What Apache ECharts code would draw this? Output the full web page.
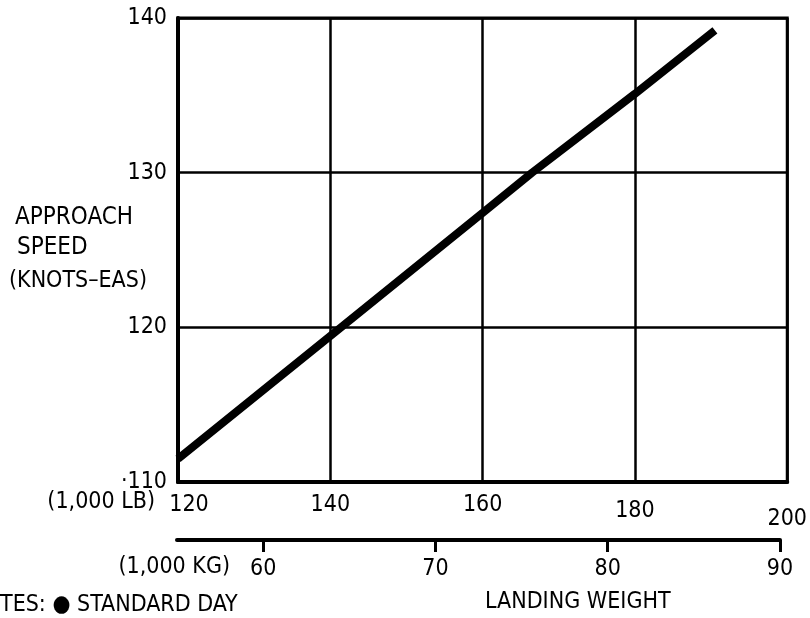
<!DOCTYPE html>
<html>
<head>
<meta charset="utf-8">
<script src="https://cdn.jsdelivr.net/npm/echarts@6/dist/echarts.min.js"></script>
<style>
html,body{margin:0;padding:0;background:#fff;}
#chart{width:810px;height:618px;}
</style>
</head>
<body>
<div id="chart"></div>
<script>
// Landing weight (1,000 LB) and approach speed (knots EAS)
const weightLb = [120, 141.4, 160, 166.5, 180, 190.5];
const approachSpeed = [111.5, 120, 127.4, 130, 135.1, 139.2];
// Tick labels
const lbTicks = [120, 140, 160, 180, 200];
const speedTicks = [110, 120, 130, 140];
const kgTicks = [60, 70, 80, 90];
const kgRange = [55, 90];
const yTitle = ['APPROACH', 'SPEED', '(KNOTS–EAS)'];

const FONT = '"Liberation Sans Narrow", "DejaVu Sans Condensed", sans-serif';
const chart = echarts.init(document.getElementById('chart'), null, {renderer: 'canvas'});

const lineData = weightLb.map((w, i) => [w, approachSpeed[i]]);

const option = {
  backgroundColor: '#fff',
  animation: false,
  grid: [
    {left: 178, top: 18, width: 615, height: 464, show: true, borderColor: '#000', borderWidth: 3, backgroundColor: 'transparent'},
    {left: 177, top: 539, width: 603, height: 1, show: false}
  ],
  xAxis: [
    {
      gridIndex: 0, type: 'value', min: lbTicks[0], max: lbTicks[lbTicks.length - 1], interval: 20,
      axisLine: {show: true, lineStyle: {color: '#000', width: 4}},
      axisTick: {show: false},
      splitLine: {show: true, lineStyle: {color: '#000', width: 2.5}},
      axisLabel: {
        color: '#000', fontFamily: FONT, fontSize: 23, margin: 12,
        formatter: function (v) {
          if (v === 120) return '{a|' + v + '}';
          if (v === 200) return '{c|' + v + '}';
          if (v === 180) return '{b|' + v + '}';
          return String(v);
        },
        rich: {
          a: {fontFamily: FONT, fontSize: 23, color: '#000', padding: [0, 0, 0, 22]},
          b: {fontFamily: FONT, fontSize: 23, color: '#000', padding: [6, 0, 0, 0]},
          c: {fontFamily: FONT, fontSize: 23, color: '#000', padding: [14, 0, 0, 0]}
        }
      }
    },
    {
      gridIndex: 1, type: 'value', min: kgRange[0], max: kgRange[1], position: 'bottom',
      axisLine: {show: true, lineStyle: {color: '#000', width: 4}},
      axisTick: {show: true, inside: false, length: 12, lineStyle: {color: '#000', width: 3}, customValues: kgTicks},
      splitLine: {show: false},
      axisLabel: {color: '#000', fontFamily: FONT, fontSize: 23, margin: 18, customValues: kgTicks}
    }
  ],
  yAxis: [
    {
      gridIndex: 0, type: 'value', min: speedTicks[0], max: speedTicks[speedTicks.length - 1], interval: 10,
      axisLine: {show: true, lineStyle: {color: '#000', width: 4}},
      axisTick: {show: false},
      splitLine: {show: true, lineStyle: {color: '#000', width: 2.5}},
      axisLabel: {
        color: '#000', fontFamily: FONT, fontSize: 23, margin: 11,
        formatter: function (v) { return v === 110 ? '·110' : String(v); }
      }
    },
    {gridIndex: 1, type: 'value', min: 0, max: 1, show: false}
  ],
  graphic: [
    {type: 'text', left: 15, top: 206, style: {text: yTitle[0], fontFamily: FONT, fontSize: 24, fill: '#000'}},
    {type: 'text', left: 17, top: 236, style: {text: yTitle[1], fontFamily: FONT, fontSize: 24, fill: '#000'}},
    {type: 'text', left: 9, top: 270, style: {text: yTitle[2], fontFamily: FONT, fontSize: 23, fill: '#000'}},
    {type: 'text', right: 810 - 155, top: 491, style: {text: '(1,000 LB)', fontFamily: FONT, fontSize: 23, fill: '#000'}},
    {type: 'text', right: 810 - 230, top: 556, style: {text: '(1,000 KG)', fontFamily: FONT, fontSize: 23, fill: '#000'}},
    {type: 'text', left: 0, top: 594, style: {text: 'TES: ● STANDARD DAY', fontFamily: FONT, fontSize: 23, fill: '#000'}},
    {type: 'text', left: 485, top: 591, style: {text: 'LANDING WEIGHT', fontFamily: FONT, fontSize: 23, fill: '#000'}}
  ],
  series: [
    {
      type: 'line', xAxisIndex: 0, yAxisIndex: 0, data: lineData,
      showSymbol: false, symbol: 'none',
      lineStyle: {color: '#000', width: 8, cap: 'butt'},
      z: 5
    }
  ]
};
chart.setOption(option);
</script>
</body>
</html>
